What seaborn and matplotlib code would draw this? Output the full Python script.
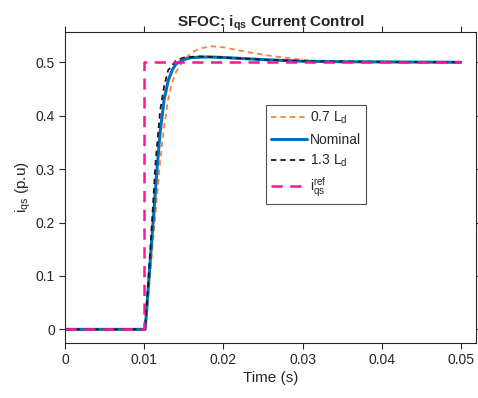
import numpy as np
import pandas as pd
import seaborn as sns
import matplotlib
matplotlib.use("Agg")
import matplotlib.pyplot as plt

# ---- data ----
t_nom = [0, 0.0100, 0.0101, 0.0105, 0.0110, 0.0116, 0.0120, 0.0125, 0.0130, 0.0135, 0.0140, 0.0150, 0.0160, 0.0180, 0.0200, 0.0250, 0.0300, 0.0350, 0.0500]
v_nom = [0, 0.0, 0.0, 0.08, 0.18, 0.30, 0.37, 0.43, 0.465, 0.485, 0.497, 0.505, 0.509, 0.510, 0.509, 0.505, 0.502, 0.501, 0.500]

t_07 = [0, 0.0100, 0.0101, 0.0105, 0.0110, 0.0120, 0.0125, 0.0130, 0.0135, 0.0141, 0.0150, 0.0160, 0.0170, 0.0186, 0.0200, 0.0220, 0.0250, 0.0280, 0.0310, 0.0340, 0.0400, 0.0500]
v_07 = [0, 0.0, 0.0, 0.06, 0.15, 0.316, 0.38, 0.43, 0.462, 0.485, 0.505, 0.518, 0.526, 0.530, 0.528, 0.522, 0.514, 0.508, 0.503, 0.501, 0.500, 0.500]

t_13 = [0, 0.0100, 0.0101, 0.0105, 0.0110, 0.0114, 0.0120, 0.0125, 0.0130, 0.0140, 0.0150, 0.0170, 0.0200, 0.0250, 0.0300, 0.0500]
v_13 = [0, 0.0, 0.0, 0.09, 0.21, 0.31, 0.41, 0.455, 0.485, 0.503, 0.509, 0.511, 0.509, 0.505, 0.502, 0.500]

t_ref = [0, 0.0100, 0.0100, 0.0500]
v_ref = [0, 0.0, 0.5, 0.5]

labels = ['0.7 L$_\\mathregular{d}$', 'Nominal', '1.3 L$_\\mathregular{d}$', '$\\mathregular{i_{qs}^{ref}}$']
x_ticks = [0, 0.01, 0.02, 0.03, 0.04, 0.05]
x_tick_labels = ['0', '0.01', '0.02', '0.03', '0.04', '0.05']
y_ticks = [0, 0.1, 0.2, 0.3, 0.4, 0.5]
y_tick_labels = ['0', '0.1', '0.2', '0.3', '0.4', '0.5']

sns.set_theme(style="white")
plt.rcParams['font.family'] = ['Liberation Sans', 'DejaVu Sans']
plt.rcParams['mathtext.fontset'] = 'custom'
plt.rcParams['mathtext.rm'] = 'Liberation Sans'
plt.rcParams['mathtext.it'] = 'Liberation Sans'
plt.rcParams['mathtext.bf'] = 'Liberation Sans:bold'

fig = plt.figure(figsize=(4.78, 3.98), dpi=100)
ax = fig.add_axes([65.3 / 478, (398 - 342.7) / 398, (475.7 - 65.3) / 478, (342.7 - 32) / 398])

df07 = pd.DataFrame({'t': t_07, 'v': v_07})
dfn = pd.DataFrame({'t': t_nom, 'v': v_nom})
df13 = pd.DataFrame({'t': t_13, 'v': v_13})
dfr = pd.DataFrame({'t': t_ref, 'v': v_ref})

sns.lineplot(data=df07, x='t', y='v', ax=ax, color='#FF7F3F', lw=1.3, sort=False,
             estimator=None, label=labels[0])
sns.lineplot(data=dfn, x='t', y='v', ax=ax, color='#0072BD', lw=2.2, sort=False,
             estimator=None, label=labels[1])
sns.lineplot(data=df13, x='t', y='v', ax=ax, color='#1a1a1a', lw=1.3, sort=False,
             estimator=None, label=labels[2])
sns.lineplot(data=dfr, x='t', y='v', ax=ax, color='#FF1493', lw=1.8, sort=False,
             estimator=None, label=labels[3])
lines = ax.get_lines()
lines[0].set_linestyle((0, (3, 2.2)))
lines[2].set_linestyle((0, (3, 2.2)))
lines[3].set_linestyle((0, (4.5, 3)))

ax.set_xlim(0, 0.0519)
ax.set_ylim(-0.025, 0.5567)
ax.set_xticks(x_ticks)
ax.set_xticklabels(x_tick_labels)
ax.set_yticks(y_ticks)
ax.set_yticklabels(y_tick_labels)
ax.tick_params(direction='out', length=4, width=0.8, colors='#262626', labelsize=10,
               top=True, right=True, bottom=True, left=True, labelcolor='#262626')
for s in ax.spines.values():
    s.set_color('#262626')
    s.set_linewidth(0.8)

ax.set_xlabel('Time (s)', fontsize=11, color='#262626', labelpad=3)
ax.set_ylabel('$\\mathregular{i_{qs}}$ (p.u)', fontsize=11, color='#262626', labelpad=2)
ax.set_title('SFOC: $\\mathbf{i_{qs}}$ Current Control', fontsize=11, fontweight='bold', pad=4)

handles = ax.get_lines()[:4]
leg = ax.legend(handles=handles, labels=labels, loc='upper left',
                bbox_to_anchor=((266 - 65.3) / 410.4, (342.7 - 105) / 310.7),
                fontsize=10, frameon=True, fancybox=False, handlelength=2.6,
                handletextpad=0.2, borderpad=0.35, labelspacing=0.45, borderaxespad=0)
leg.get_frame().set_edgecolor('#262626')
leg.get_frame().set_linewidth(0.8)

fig.savefig('out.png', dpi=100)
